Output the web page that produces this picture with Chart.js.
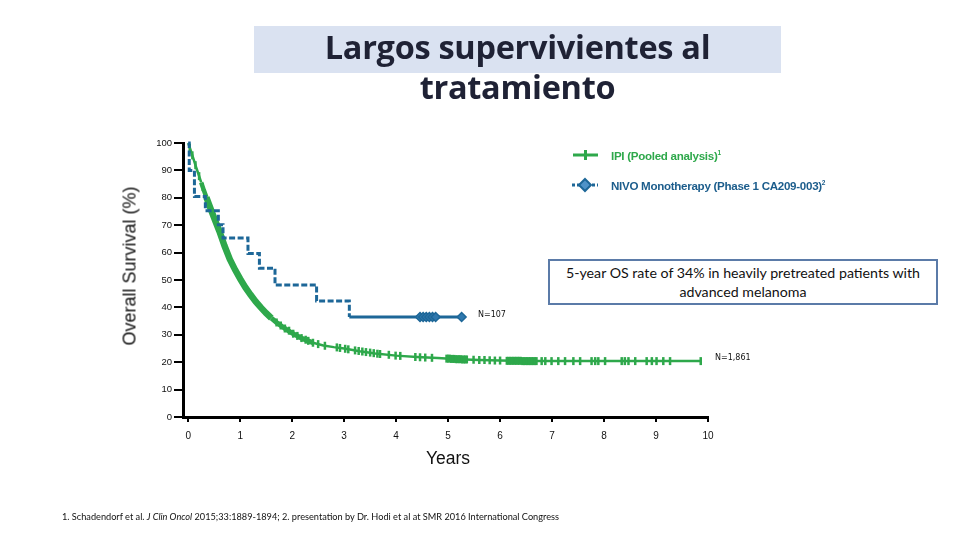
<!DOCTYPE html>
<html>
<head>
<meta charset="utf-8">
<script src="https://cdn.jsdelivr.net/npm/chart.js@4.4.1/dist/chart.umd.min.js"></script>
<style>
  html, body { margin:0; padding:0; background:#ffffff; }
  #wrap { position:relative; width:960px; height:540px; overflow:hidden; background:#fff; }
  #c { position:absolute; left:0; top:0; }
  .abs { position:absolute; white-space:nowrap; }
  #titleBox { left:254px; top:26px; width:527px; height:47px; background:#dae2f1; }
  #title { left:254px; top:27px; width:527px; text-align:center; font-family:"Open Sans", sans-serif; font-weight:700; font-size:32.5px; line-height:40px; color:#1f2235; letter-spacing:-0.3px; }
  #ytitle { left:130px; top:266px; transform:translate(-50%,-50%) rotate(-90deg); font-family:"Liberation Sans", Arial, sans-serif; font-size:18px; color:#111; }
  #xtitle { left:448px; top:458px; transform:translate(-50%,-50%); font-family:"Liberation Sans", Arial, sans-serif; font-size:17.5px; color:#111; }
  #note { left:548px; top:259px; width:386px; height:40px; border:2px solid #5b7ba8; background:#fff; text-align:center; font-family:Lato, sans-serif; font-size:14.2px; line-height:19px; color:#111; padding-top:2px; }
  .leg { font-family:"Liberation Sans", Arial, sans-serif; font-weight:700; font-size:11.6px; transform:translateY(-50%); letter-spacing:-0.3px; }
  .nlab { font-family:"DejaVu Sans", sans-serif; font-size:8px; color:#111; transform:translateY(-50%); }
  #foot { left:62px; top:516px; transform:translateY(-50%); font-family:Lato, sans-serif; font-size:9.2px; color:#111; }
</style>
</head>
<body>
<div id="wrap">
  <canvas id="c" width="960" height="540"></canvas>
  <div id="titleBox" class="abs"></div>
  <div id="title" class="abs">Largos supervivientes al<br>tratamiento</div>
  <div id="ytitle" class="abs">Overall Survival (%)</div>
  <div id="xtitle" class="abs">Years</div>
  <div id="note" class="abs">5-year OS rate of 34% in heavily pretreated patients with<br>advanced melanoma</div>
  <div class="abs leg" style="left:611px; top:155px; color:#2ea84b;">IPI (Pooled analysis)<sup style="font-size:6.5px">1</sup></div>
  <div class="abs leg" style="left:611px; top:185px; color:#1c5d8c;">NIVO Monotherapy (Phase 1 CA209-003)<sup style="font-size:6.5px">2</sup></div>
  <div class="abs nlab" style="left:478px; top:314px;">N=107</div>
  <div class="abs nlab" style="left:715px; top:357px;">N=1,861</div>
  <div id="foot" class="abs">1. Schadendorf et al. <i>J Clin Oncol</i> 2015;33:1889-1894; 2. presentation by Dr. Hodi et al at SMR 2016 International Congress</div>
</div>
<script>
// ---- Data ----
const xTicks = [0, 1, 2, 3, 4, 5, 6, 7, 8, 9, 10];
const yTicks = [0, 10, 20, 30, 40, 50, 60, 70, 80, 90, 100];

// IPI pooled analysis (Kaplan-Meier curve, years vs % survival)
const ipiTime = [0, 0.05, 0.1, 0.15, 0.2, 0.25, 0.3, 0.35, 0.4, 0.5, 0.6, 0.7, 0.8, 0.9, 1.0, 1.1, 1.2, 1.3, 1.4, 1.5, 1.6, 1.7, 1.8, 1.9, 2.0, 2.2, 2.4, 2.6, 2.8, 3.0, 3.3, 3.6, 4.0, 4.4, 4.8, 5.2, 5.6, 6.0, 6.5, 7.0, 8.0, 9.0, 9.86];
const ipiSurv = [100, 97.2, 94.3, 91.3, 88.5, 85.6, 82.8, 80.2, 77.6, 72.6, 67.8, 62.4, 57.6, 53.8, 50.4, 47.3, 44.6, 42.1, 39.9, 37.9, 36.1, 34.5, 33.1, 31.8, 30.6, 28.6, 27.1, 26.1, 25.5, 25.0, 24.0, 23.2, 22.4, 21.9, 21.5, 21.1, 20.8, 20.6, 20.4, 20.4, 20.4, 20.4, 20.4];

// IPI censoring marks
const ipiCensorTime = [0.03, 0.08, 0.14, 0.21, 0.28,
  1.7, 1.78, 1.86, 1.94, 2.02, 2.1, 2.18, 2.26, 2.31, 2.4, 2.5, 2.63, 2.86, 2.92, 3.02, 3.08,
  3.21, 3.28, 3.35, 3.42, 3.5, 3.57, 3.64, 3.69, 3.86, 3.99, 4.08, 4.37, 4.46, 4.56, 4.69,
  4.97, 5.0, 5.03, 5.06, 5.09, 5.12, 5.15, 5.18, 5.21, 5.24, 5.27, 5.3, 5.33, 5.36,
  5.49, 5.6, 5.7, 5.8, 5.9, 6.0,
  6.13, 6.16, 6.19, 6.22, 6.25, 6.28, 6.31, 6.34, 6.37, 6.4, 6.43, 6.46, 6.49, 6.52, 6.55, 6.58, 6.61, 6.64, 6.67, 6.7,
  6.8, 6.87, 6.99, 7.12, 7.25, 7.41, 7.54, 7.76, 7.83, 7.89, 8.02, 8.34, 8.4, 8.47, 8.6, 8.82, 8.92, 9.01, 9.14, 9.27, 9.86];
const ipiCensorSurv = [98.3, 95.5, 91.9, 87.9, 83.9,
  34.5, 33.4, 32.3, 31.5, 30.4, 29.6, 28.8, 28.2, 27.8, 27.1, 26.6, 26.0, 25.4, 25.2, 24.9, 24.7,
  24.3, 24.1, 23.9, 23.7, 23.5, 23.3, 23.1, 23.0, 22.7, 22.4, 22.3, 21.9, 21.8, 21.7, 21.6,
  21.3, 21.3, 21.3, 21.2, 21.2, 21.2, 21.1, 21.1, 21.1, 21.1, 21.0, 21.0, 21.0, 21.0,
  20.9, 20.8, 20.8, 20.7, 20.6, 20.6,
  20.5, 20.5, 20.5, 20.5, 20.5, 20.5, 20.5, 20.5, 20.5, 20.5, 20.4, 20.4, 20.4, 20.4, 20.4, 20.4, 20.4, 20.4, 20.4, 20.4,
  20.4, 20.4, 20.4, 20.4, 20.4, 20.4, 20.4, 20.4, 20.4, 20.4, 20.4, 20.4, 20.4, 20.4, 20.4, 20.4, 20.4, 20.4, 20.4, 20.4, 20.4];

// NIVO monotherapy (step curve: time of drop, survival after drop)
const nivoTime = [0, 0.02, 0.12, 0.33, 0.58, 0.67, 1.15, 1.37, 1.67, 2.47, 3.10, 5.26];
const nivoSurv = [100, 90, 80.5, 75.3, 70.2, 65.3, 59.7, 54.3, 48.2, 42.3, 36.5, 36.5];
const nivoCensorTime = [4.46, 4.52, 4.58, 4.64, 4.7, 4.76, 5.26];
const nivoCensorSurv = [36.5, 36.5, 36.5, 36.5, 36.5, 36.5, 36.5];

const GREEN = '#2ea84b';
const BLUE = '#1d6798';

const toXY = (xs, ys) => xs.map((x, i) => ({ x: x, y: ys[i] }));

const legendPlugin = {
  id: 'legendMarks',
  afterDraw(chart) {
    const ctx = chart.ctx;
    ctx.save();
    // IPI legend mark
    ctx.strokeStyle = GREEN; ctx.lineWidth = 3;
    ctx.beginPath(); ctx.moveTo(573, 155); ctx.lineTo(598, 155); ctx.stroke();
    ctx.beginPath(); ctx.moveTo(585.5, 150); ctx.lineTo(585.5, 160); ctx.stroke();
    // NIVO legend mark
    ctx.strokeStyle = BLUE; ctx.lineWidth = 3; ctx.setLineDash([3, 2]);
    ctx.beginPath(); ctx.moveTo(572, 185); ctx.lineTo(598, 185); ctx.stroke();
    ctx.setLineDash([]);
    ctx.fillStyle = '#4f93c8'; ctx.lineWidth = 2;
    ctx.beginPath(); ctx.moveTo(585, 179); ctx.lineTo(591, 185); ctx.lineTo(585, 191); ctx.lineTo(579, 185); ctx.closePath();
    ctx.fill(); ctx.stroke();
    ctx.restore();
  }
};

new Chart(document.getElementById('c'), {
  type: 'scatter',
  data: {
    datasets: [
      {
        label: 'NIVO censored',
        data: toXY(nivoCensorTime, nivoCensorSurv),
        showLine: false,
        pointStyle: 'rectRot',
        pointRadius: 4.5,
        pointBorderWidth: 1.5,
        borderColor: BLUE,
        backgroundColor: '#2f78ae',
        clip: 10,
        order: 0
      },
      {
        label: 'NIVO Monotherapy (Phase 1 CA209-003)',
        data: toXY(nivoTime, nivoSurv),
        showLine: true,
        stepped: 'before',
        borderColor: BLUE,
        borderWidth: 3,
        pointRadius: 0,
        clip: 10,
        segment: {
          borderDash: ctx => (ctx.p0.parsed.x < 3.05 ? [6, 2.5] : undefined)
        },
        order: 1
      },
      {
        label: 'IPI censored',
        data: toXY(ipiCensorTime, ipiCensorSurv),
        showLine: false,
        pointStyle: 'line',
        rotation: 90,
        pointRadius: 4,
        pointBorderWidth: 2.5,
        borderColor: GREEN,
        backgroundColor: GREEN,
        clip: 10,
        order: 2
      },
      {
        label: 'IPI (Pooled analysis)',
        data: toXY(ipiTime, ipiSurv),
        showLine: true,
        borderColor: GREEN,
        borderWidth: 3,
        pointRadius: 0,
        tension: 0,
        clip: 10,
        segment: {
          borderWidth: ctx => {
            const x = ctx.p0.parsed.x;
            if (x >= 0.35 && x < 1.6) return 6.5;
            if (x >= 0.25 && x < 0.35) return 4.5;
            if (x >= 1.6 && x < 2.4) return 5;
            return 2.5;
          }
        },
        order: 3
      }
    ]
  },
  options: {
    responsive: false,
    devicePixelRatio: 1,
    animation: false,
    layout: { padding: { left: 0, top: 143, right: 252, bottom: 0 } },
    plugins: { legend: { display: false }, tooltip: { enabled: false }, title: { display: false } },
    scales: {
      x: {
        type: 'linear',
        min: -0.1,
        max: 10,
        afterBuildTicks: s => { s.ticks = xTicks.map(v => ({ value: v })); },
        afterFit: s => { s.height = 123; },
        grid: { drawOnChartArea: false, drawTicks: true, tickLength: 5, color: '#000', lineWidth: 2 },
        border: { display: true, color: '#000', width: 3 },
        ticks: { color: '#111', font: { family: 'Liberation Sans', size: 10 }, padding: 8, autoSkip: false, maxRotation: 0 }
      },
      y: {
        type: 'linear',
        min: 0,
        max: 100,
        afterBuildTicks: s => { s.ticks = yTicks.map(v => ({ value: v })); },
        afterFit: s => { s.width = 183; },
        grid: { drawOnChartArea: false, drawTicks: true, tickLength: 9, color: '#000', lineWidth: 2 },
        border: { display: true, color: '#000', width: 3 },
        ticks: { color: '#111', font: { family: 'Liberation Sans', size: 9.5 }, padding: 2, autoSkip: false }
      }
    }
  },
  plugins: [legendPlugin]
});
</script>
</body>
</html>
